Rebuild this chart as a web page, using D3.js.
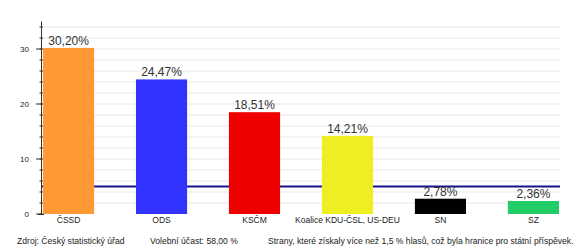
<!DOCTYPE html>
<html>
<head>
<meta charset="utf-8">
<script src="https://cdn.jsdelivr.net/npm/d3@7"></script>
<style>
  body { margin: 0; background: #fff; }
  text { font-family: "Liberation Sans", Arial, sans-serif; }
</style>
</head>
<body>
<div id="mainDiv"></div>
<script>
'use strict';

var parties = ['ČSSD', 'ODS', 'KSČM', 'Koalice KDU-ČSL, US-DEU', 'SN', 'SZ'];
var votes = [30.20, 24.47, 18.51, 14.21, 2.78, 2.36];
var barColors = ['#ff9933', '#3333ff', '#ee0000', '#eeee22', '#000000', '#22cc66'];
var majorTicks = [0, 10, 20, 30];
var minorTicks = d3.range(0, 36, 2);
var threshold = 5;
var footer = [
    {x: 17, text: 'Zdroj: Český statistický úřad'},
    {x: 150, text: 'Volební účast: 58,00 %'},
    {x: 268, text: 'Strany, které získaly více než 1,5 % hlasů, což byla hranice pro státní příspěvek.'}
];

var chart = {};
chart.width = 583;
chart.height = 249;

chart.x = d3.scaleBand().domain(parties).range([43, 559]).paddingInner(0.45).paddingOuter(0);
chart.y = d3.scaleLinear().domain([0, 35]).range([214, 21.5]);

chart.start = function(){
    var svg = d3.select('#mainDiv').append('svg')
        .attr('width', chart.width)
        .attr('height', chart.height);

    // grid lines
    svg.append('g').selectAll('line')
        .data(minorTicks.filter(function(d){ return d > 0; }))
        .enter().append('line')
        .attr('x1', 41).attr('x2', 560)
        .attr('y1', function(d){ return chart.y(d); })
        .attr('y2', function(d){ return chart.y(d); })
        .attr('stroke', '#e8e8e8')
        .attr('stroke-width', 1);

    // threshold line
    svg.append('line')
        .attr('x1', 41).attr('x2', 560)
        .attr('y1', chart.y(threshold)).attr('y2', chart.y(threshold))
        .attr('stroke', '#14148a')
        .attr('stroke-width', 2);

    var data = parties.map(function(p, i){ return {name: p, value: votes[i], color: barColors[i]}; });

    svg.append('g').selectAll('rect')
        .data(data)
        .enter().append('rect')
        .attr('x', function(d){ return chart.x(d.name); })
        .attr('y', function(d){ return chart.y(d.value); })
        .attr('width', chart.x.bandwidth())
        .attr('height', function(d){ return chart.y(0) - chart.y(d.value); })
        .attr('fill', function(d){ return d.color; });

    // value labels
    svg.append('g').selectAll('text')
        .data(data)
        .enter().append('text')
        .attr('x', function(d){ return chart.x(d.name) + chart.x.bandwidth() / 2; })
        .attr('y', function(d){ return chart.y(d.value) - 3; })
        .attr('text-anchor', 'middle')
        .attr('font-size', 12)
        .attr('fill', '#333')
        .text(function(d){ return d.value.toFixed(2).replace('.', ',') + '%'; });

    // category labels
    svg.append('g').selectAll('text')
        .data(parties)
        .enter().append('text')
        .attr('x', function(d){ return chart.x(d) + chart.x.bandwidth() / 2; })
        .attr('y', 223)
        .attr('text-anchor', 'middle')
        .attr('font-size', 8.5)
        .attr('fill', '#222')
        .text(function(d){ return d; });

    // y axis
    var axisG = svg.append('g');
    axisG.append('line')
        .attr('x1', 41.5).attr('x2', 41.5)
        .attr('y1', chart.y(0)).attr('y2', chart.y(35))
        .attr('stroke', '#333');
    axisG.append('line')
        .attr('x1', 38).attr('x2', 44)
        .attr('y1', chart.y(0) + 0.5).attr('y2', chart.y(0) + 0.5)
        .attr('stroke', '#333');
    axisG.selectAll('.minor')
        .data(minorTicks)
        .enter().append('line')
        .attr('class', 'minor')
        .attr('x1', 39.5).attr('x2', 43)
        .attr('y1', function(d){ return chart.y(d); })
        .attr('y2', function(d){ return chart.y(d); })
        .attr('stroke', '#333');
    axisG.selectAll('.major')
        .data(majorTicks)
        .enter().append('line')
        .attr('class', 'major')
        .attr('x1', 36).attr('x2', 42)
        .attr('y1', function(d){ return chart.y(d); })
        .attr('y2', function(d){ return chart.y(d); })
        .attr('stroke', '#333');
    axisG.selectAll('text')
        .data(majorTicks)
        .enter().append('text')
        .attr('x', 29)
        .attr('y', function(d){ return chart.y(d) + 3; })
        .attr('text-anchor', 'end')
        .attr('font-size', 8)
        .attr('fill', '#222')
        .text(function(d){ return d; });

    // footer
    svg.append('g').selectAll('text')
        .data(footer)
        .enter().append('text')
        .attr('x', function(d){ return d.x; })
        .attr('y', 244)
        .attr('font-size', 8.6)
        .attr('fill', '#222')
        .text(function(d){ return d.text; });
};

window.onload = chart.start;
</script>
</body>
</html>
